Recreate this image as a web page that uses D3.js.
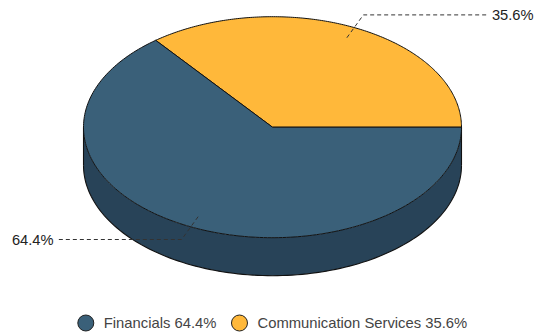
<!DOCTYPE html>
<html>
<head>
<meta charset="utf-8">
<script src="https://cdn.jsdelivr.net/npm/d3@7"></script>
<style>
  html, body { margin: 0; padding: 0; background: #fff; }
  svg { display: block; font-family: "Liberation Sans", Arial, sans-serif; }
</style>
</head>
<body>
<svg id="chart" width="535" height="333"></svg>
<script>
// ---- data ----
const categories = ["Communication Services", "Financials"];
const values = [35.6, 64.4];
const labels = ["35.6%", "64.4%"];
const legendOrder = ["Financials", "Communication Services"];
const colors = { "Communication Services": "#ffb83a", "Financials": "#3a6079" };
const sideColors = { "Communication Services": "#c98f27", "Financials": "#284358" };

// ---- layout ----
const W = 535, H = 333;
const cx = 272.5, cy = 127.2, rx = 189, ry = 110.5, depth = 38;

const svg = d3.select("#chart");
const data = categories.map((c, i) => ({ name: c, value: values[i], label: labels[i] }));

// counter-clockwise starting at east (d3 angle PI/2 going negative)
const pie = d3.pie().value(d => d.value).sort(null)
  .startAngle(Math.PI / 2).endAngle(Math.PI / 2 - 2 * Math.PI);
const arcs = pie(data);

const px = (a, k = 1) => cx + rx * k * Math.sin(a);
const py = (a, k = 1) => cy - ry * k * Math.cos(a);
const lineGen = d3.line();

function sample(a0, a1, n) {
  return d3.range(n + 1).map(i => a0 + (a1 - a0) * i / n);
}

// ---- side walls (front half: cos(a) < 0) ----
const sideG = svg.append("g");
arcs.forEach(d => {
  let lo = Math.min(d.startAngle, d.endAngle), hi = Math.max(d.startAngle, d.endAngle);
  for (let k = -2; k <= 1; k++) {
    const f0 = Math.PI / 2 + k * 2 * Math.PI, f1 = 3 * Math.PI / 2 + k * 2 * Math.PI;
    const s = Math.max(lo, f0), e = Math.min(hi, f1);
    if (e > s) {
      const angs = sample(s, e, 120);
      const top = angs.map(a => [px(a), py(a)]);
      const bot = angs.slice().reverse().map(a => [px(a), py(a) + depth]);
      sideG.append("path")
        .attr("d", lineGen(top.concat(bot)) + "Z")
        .attr("fill", sideColors[d.data.name])
        .attr("stroke", "none");
      sideG.append("path")
        .attr("d", lineGen(angs.map(a => [px(a), py(a) + depth])))
        .attr("fill", "none").attr("stroke", "#111").attr("stroke-width", 1.1);
    }
  }
});
[Math.PI / 2, -Math.PI / 2].forEach(a => {
  sideG.append("line")
    .attr("x1", px(a)).attr("y1", py(a))
    .attr("x2", px(a)).attr("y2", py(a) + depth)
    .attr("stroke", "#111").attr("stroke-width", 1.1);
});

// ---- top slices ----
const topG = svg.append("g");
arcs.forEach(d => {
  const angs = sample(d.startAngle, d.endAngle, 200);
  const pts = [[cx, cy]].concat(angs.map(a => [px(a), py(a)]));
  topG.append("path")
    .attr("d", lineGen(pts) + "Z")
    .attr("fill", colors[d.data.name])
    .attr("stroke", "#111").attr("stroke-width", 1)
    .attr("stroke-linejoin", "round");
});

// ---- labels ----
const labG = svg.append("g");
arcs.forEach(d => {
  const m = (d.startAngle + d.endAngle) / 2;
  const x0 = px(m, 0.9), y0 = py(m, 0.9);
  const x1 = cx + rx * 1.1 * Math.sin(m), y1 = cy - ry * 1.13 * Math.cos(m);
  const right = x1 > cx;
  const x2 = right ? x1 + 123 : x1 - 123;
  labG.append("path")
    .attr("d", lineGen([[x0, y0], [x1, y1], [x2, y1]]))
    .attr("fill", "none").attr("stroke", "#333").attr("stroke-width", 1)
    .attr("stroke-dasharray", "4,3");
  labG.append("text")
    .attr("x", right ? x2 + 5.5 : x2 - 5).attr("y", y1)
    .attr("dy", "0.35em")
    .attr("text-anchor", right ? "start" : "end")
    .attr("font-size", 14.7).attr("fill", "#222")
    .text(d.data.label);
});

// ---- legend ----
const legG = svg.append("g");
const ly = 323;
let xPos = 0;
const items = legendOrder.map(n => data.find(d => d.name === n));
items.forEach((d, i) => {
  const g = legG.append("g").attr("transform", `translate(${xPos},0)`);
  g.append("circle").attr("cx", 8).attr("cy", ly).attr("r", 8)
    .attr("fill", colors[d.name]).attr("stroke", "#222").attr("stroke-width", 1);
  const t = g.append("text").attr("x", 26).attr("y", ly).attr("dy", "0.35em")
    .attr("font-size", 14.8).attr("fill", "#444")
    .text(d.name + " " + d.label);
  xPos += 26 + t.node().getComputedTextLength() + 15;
});
const totalW = xPos - 15;
legG.attr("transform", `translate(${cx - totalW / 2},0)`);
</script>
</body>
</html>
